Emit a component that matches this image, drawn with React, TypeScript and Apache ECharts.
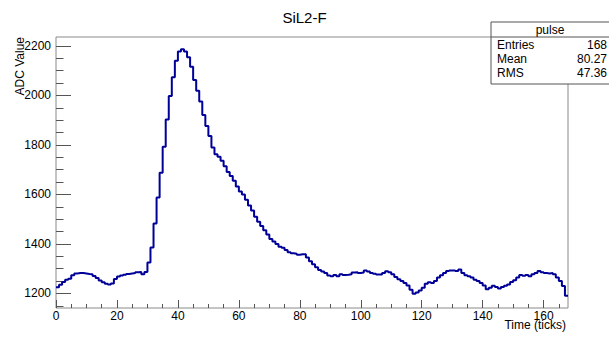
import { useEffect, useRef } from "react";
import * as echarts from "echarts";

const adcValues: number[] = [
  1225, 1235, 1246, 1255, 1259, 1273, 1280, 1282, 1282, 1280,
  1278, 1277, 1270, 1262, 1252, 1245, 1239, 1236, 1240, 1258,
  1268, 1272, 1275, 1278, 1280, 1282, 1285, 1286, 1277, 1286,
  1325, 1385, 1482, 1587, 1687, 1793, 1903, 1998, 2073, 2140,
  2177, 2187, 2177, 2154, 2116, 2062, 2019, 1975, 1921, 1876,
  1836, 1790, 1762, 1752, 1736, 1714, 1691, 1674, 1655, 1632,
  1612, 1600, 1578, 1555, 1535, 1510, 1490, 1472, 1455, 1438,
  1420, 1410, 1400, 1388, 1384, 1375, 1366, 1362, 1360, 1356,
  1358, 1358, 1345, 1330, 1318, 1306, 1295, 1288, 1282, 1272,
  1269, 1274, 1269, 1277, 1274, 1275, 1277, 1284, 1285, 1282,
  1284, 1293, 1288, 1282, 1279, 1276, 1276, 1282, 1289, 1285,
  1277, 1266, 1257, 1250, 1242, 1232, 1215, 1199, 1204, 1212,
  1223, 1239, 1245, 1242, 1250, 1264, 1273, 1282, 1290, 1293,
  1293, 1290, 1297, 1282, 1273, 1269, 1264, 1255, 1250, 1242,
  1232, 1217, 1223, 1231, 1226, 1220, 1226, 1231, 1236, 1246,
  1253, 1264, 1274, 1271, 1274, 1269, 1277, 1282, 1290, 1285,
  1282, 1280, 1282, 1277, 1264, 1250, 1230, 1190,
];

const xMajorTicks = [0, 20, 40, 60, 80, 100, 120, 140, 160];
const xMinorTicks = [
  5, 10, 15, 25, 30, 35, 45, 50, 55, 65, 70, 75, 85, 90, 95, 105, 110, 115,
  125, 130, 135, 145, 150, 155, 165,
];
const yMajorTicks = [1200, 1400, 1600, 1800, 2000, 2200];
const yMinorTicks = [
  1150, 1250, 1300, 1350, 1450, 1500, 1550, 1650, 1700, 1750, 1850, 1900,
  1950, 2050, 2100, 2150,
];

const chartTitle = "SiL2-F";
const xTitle = "Time (ticks)";
const yTitle = "ADC Value";
const statsName = "pulse";
const statsLabels = ["Entries", "Mean", "RMS"];
const statsValues = ["168", "80.27", "47.36"];

const FONT = "'Liberation Sans', Arial, Helvetica, sans-serif";
const FRAME = "#8a8a8a";
const TICK = "#555555";

export default function App() {
  const ref = useRef<HTMLDivElement>(null);

  useEffect(() => {
    if (!ref.current) return;
    const chart = echarts.init(ref.current, undefined, { renderer: "svg" });

    const stepData: number[][] = [];
    adcValues.forEach((v, i) => {
      stepData.push([i, v]);
      stepData.push([i + 1, v]);
    });

    const gLeft = 56;
    const gTop = 37;
    const gRight = 568;
    const gBottom = 308;

    const plain = (v: number) => String(v);

    const xBase = {
      type: "value" as const,
      min: 0,
      max: adcValues.length,
      position: "bottom" as const,
      axisLine: { show: false },
      splitLine: { show: false },
    };
    const yBase = {
      type: "value" as const,
      min: 1141,
      max: 2236,
      position: "left" as const,
      axisLine: { show: false },
      splitLine: { show: false },
    };

    chart.setOption({
      animation: false,
      backgroundColor: "#ffffff",
      title: {
        text: chartTitle,
        left: "center",
        top: 5,
        textStyle: {
          fontFamily: FONT,
          fontSize: 15,
          fontWeight: "normal",
          color: "#000",
        },
      },
      grid: {
        left: gLeft,
        top: gTop,
        right: 609 - gRight,
        bottom: 337 - gBottom,
        show: true,
        borderColor: FRAME,
        borderWidth: 1,
        backgroundColor: "transparent",
      },
      xAxis: [
        {
          ...xBase,
          axisTick: {
            show: true,
            inside: true,
            length: 8,
            customValues: xMajorTicks,
            lineStyle: { color: TICK },
          },
          axisLabel: {
            show: true,
            customValues: xMajorTicks,
            formatter: plain,
            margin: 2,
            fontFamily: FONT,
            fontSize: 12,
            color: "#000",
          },
        },
        {
          ...xBase,
          axisTick: {
            show: true,
            inside: true,
            length: 4,
            customValues: xMinorTicks,
            lineStyle: { color: TICK },
          },
          axisLabel: { show: false },
        },
      ],
      yAxis: [
        {
          ...yBase,
          axisTick: {
            show: true,
            inside: true,
            length: 15,
            customValues: yMajorTicks,
            lineStyle: { color: TICK },
          },
          axisLabel: {
            show: true,
            customValues: yMajorTicks,
            formatter: plain,
            margin: 5,
            fontFamily: FONT,
            fontSize: 12,
            color: "#000",
          },
        },
        {
          ...yBase,
          axisTick: {
            show: true,
            inside: true,
            length: 7.5,
            customValues: yMinorTicks,
            lineStyle: { color: TICK },
          },
          axisLabel: { show: false },
        },
      ],
      series: [
        {
          type: "line",
          xAxisIndex: 0,
          yAxisIndex: 0,
          data: stepData,
          showSymbol: false,
          symbol: "none",
          clip: true,
          lineStyle: { color: "#000099", width: 2 },
          z: 5,
        },
      ],
      graphic: [
        {
          type: "text",
          x: 20,
          y: gTop,
          rotation: Math.PI / 2,
          style: {
            text: yTitle,
            fontFamily: FONT,
            fontSize: 12,
            fill: "#000",
            align: "right",
            verticalAlign: "middle",
          },
        },
        {
          type: "text",
          x: 566,
          y: 325,
          style: {
            text: xTitle,
            fontFamily: FONT,
            fontSize: 12,
            fill: "#000",
            align: "right",
            verticalAlign: "middle",
          },
        },
        {
          type: "group",
          z: 100,
          children: [
            {
              type: "rect",
              shape: { x: 491, y: 22, width: 125, height: 62 },
              style: { fill: "#fff", stroke: TICK, lineWidth: 1 },
            },
            {
              type: "line",
              shape: { x1: 491, y1: 37, x2: 616, y2: 37 },
              style: { stroke: TICK, lineWidth: 1 },
            },
            {
              type: "text",
              x: 550,
              y: 30,
              style: {
                text: statsName,
                fontFamily: FONT,
                fontSize: 12,
                fill: "#000",
                align: "center",
                verticalAlign: "middle",
              },
            },
            ...statsLabels.map((lab, i) => ({
              type: "text",
              x: 497,
              y: 45 + i * 14,
              style: {
                text: lab,
                fontFamily: FONT,
                fontSize: 12,
                fill: "#000",
                align: "left",
                verticalAlign: "middle",
              },
            })),
            ...statsValues.map((val, i) => ({
              type: "text",
              x: 607,
              y: 45 + i * 14,
              style: {
                text: val,
                fontFamily: FONT,
                fontSize: 12,
                fill: "#000",
                align: "right",
                verticalAlign: "middle",
              },
            })),
          ],
        },
      ],
    });

    return () => chart.dispose();
  }, []);

  return (
    <div
      ref={ref}
      style={{ position: "absolute", left: 0, top: 0, width: 609, height: 337 }}
    />
  );
}
